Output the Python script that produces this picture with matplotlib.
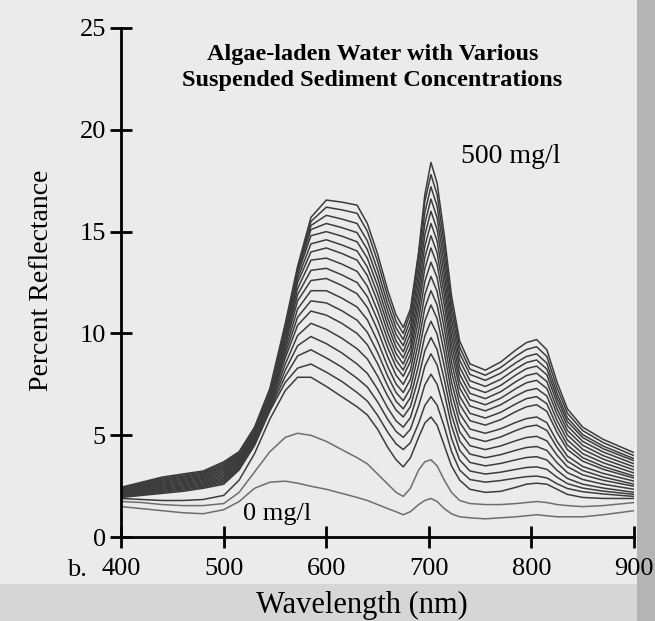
import matplotlib
matplotlib.use("Agg")
import matplotlib.pyplot as plt
from matplotlib.patches import Rectangle

plt.rcParams['font.family'] = ['Liberation Serif', 'DejaVu Serif']

# wavelength grid (nm) shared by every spectrum
wavelength = [400, 420, 440, 460, 480, 500, 515, 530, 545, 560, 572, 585, 600, 615, 630,
              640, 650, 660, 668, 675, 682, 690, 696, 702, 708, 715, 722, 730, 740, 755,
              770, 785, 795, 805, 815, 825, 835, 850, 870, 900]

# percent reflectance, 0 mg/l (curve_00) up to 500 mg/l (curve_19)
curve_00 = [1.5, 1.4, 1.3, 1.2, 1.15, 1.35, 1.75, 2.4, 2.7, 2.75, 2.65, 2.5, 2.35, 2.15, 1.95,
            1.8, 1.6, 1.4, 1.25, 1.1, 1.25, 1.6, 1.8, 1.9, 1.75, 1.4, 1.15, 1.0, 0.95, 0.9,
            0.95, 1.0, 1.05, 1.1, 1.05, 1.0, 1.0, 1.0, 1.1, 1.3]
curve_01 = [1.75, 1.7, 1.6, 1.55, 1.55, 1.65, 2.2, 3.2, 4.2, 4.9, 5.1, 5.0, 4.7, 4.3, 3.9,
            3.6, 3.1, 2.6, 2.2, 2.0, 2.4, 3.3, 3.7, 3.8, 3.5, 2.8, 2.2, 1.8, 1.65, 1.6,
            1.6, 1.65, 1.7, 1.75, 1.7, 1.6, 1.55, 1.5, 1.55, 1.7]
curve_02 = [1.9, 1.85, 1.8, 1.8, 1.85, 2.05, 2.8, 4.1, 5.8, 7.2, 7.85, 7.85, 7.4, 6.9, 6.4,
            6.0, 5.3, 4.4, 3.8, 3.45, 3.9, 4.9, 5.6, 5.9, 5.5, 4.5, 3.5, 2.8, 2.35, 2.2,
            2.25, 2.45, 2.6, 2.65, 2.6, 2.35, 2.1, 1.95, 1.9, 1.9]
curve_03 = [1.95, 2.05, 2.15, 2.25, 2.4, 2.6, 3.3, 4.5, 6.2, 7.6, 8.3, 8.5, 8.1, 7.65, 7.1,
            6.68, 5.98, 5.14, 4.58, 4.3, 4.64, 5.6, 6.46, 6.9, 6.48, 5.43, 4.21, 3.29, 2.83, 2.7,
            2.78, 2.9, 2.97, 3.0, 2.91, 2.62, 2.39, 2.23, 2.12, 2.0]
curve_04 = [1.98, 2.09, 2.2, 2.3, 2.45, 2.67, 3.36, 4.56, 6.27, 7.9, 8.9, 9.2, 8.8, 8.35, 7.8,
            7.37, 6.64, 5.77, 5.19, 4.9, 5.3, 6.45, 7.47, 8.0, 7.51, 6.29, 4.86, 3.79, 3.25, 3.1,
            3.19, 3.33, 3.42, 3.45, 3.33, 2.94, 2.63, 2.41, 2.26, 2.1]
curve_05 = [2.01, 2.13, 2.25, 2.36, 2.51, 2.74, 3.41, 4.61, 6.34, 8.2, 9.4, 9.85, 9.5, 9.05, 8.5,
            8.04, 7.26, 6.33, 5.71, 5.4, 5.87, 7.2, 8.39, 9.0, 8.45, 7.08, 5.48, 4.27, 3.67, 3.5,
            3.62, 3.8, 3.91, 3.95, 3.79, 3.28, 2.88, 2.6, 2.41, 2.2]
curve_06 = [2.04, 2.17, 2.3, 2.41, 2.56, 2.81, 3.47, 4.67, 6.41, 8.5, 9.9, 10.5, 10.2, 9.77, 9.25,
            8.75, 7.91, 6.91, 6.24, 5.9, 6.41, 7.85, 9.14, 9.8, 9.21, 7.74, 6.02, 4.73, 4.08, 3.9,
            4.05, 4.27, 4.4, 4.45, 4.26, 3.65, 3.17, 2.83, 2.6, 2.35]
curve_07 = [2.08, 2.21, 2.35, 2.46, 2.61, 2.88, 3.53, 4.73, 6.48, 8.8, 10.4, 11.1, 10.9, 10.5, 10.0,
            9.45, 8.52, 7.41, 6.67, 6.3, 6.86, 8.45, 9.87, 10.6, 9.97, 8.4, 6.57, 5.18, 4.49, 4.3,
            4.48, 4.74, 4.89, 4.95, 4.73, 4.02, 3.46, 3.06, 2.79, 2.5]
curve_08 = [2.11, 2.25, 2.4, 2.52, 2.67, 2.94, 3.58, 4.78, 6.54, 9.0, 10.8, 11.6, 11.5, 11.12, 10.65,
            10.06, 9.07, 7.89, 7.1, 6.7, 7.31, 9.05, 10.6, 11.4, 10.73, 9.06, 7.11, 5.64, 4.9, 4.7,
            4.92, 5.24, 5.42, 5.5, 5.24, 4.4, 3.73, 3.27, 2.95, 2.6]
curve_09 = [2.14, 2.29, 2.45, 2.57, 2.72, 3.01, 3.64, 4.84, 6.61, 9.2, 11.2, 12.1, 12.1, 11.74, 11.3,
            10.67, 9.62, 8.36, 7.52, 7.1, 7.75, 9.6, 11.25, 12.1, 11.4, 9.65, 7.62, 6.08, 5.31, 5.1,
            5.32, 5.64, 5.82, 5.9, 5.62, 4.7, 3.98, 3.47, 3.13, 2.75]
curve_10 = [2.17, 2.33, 2.5, 2.62, 2.77, 3.08, 3.69, 4.89, 6.68, 9.4, 11.6, 12.6, 12.7, 12.36, 11.95,
            11.28, 10.17, 8.84, 7.95, 7.5, 8.19, 10.15, 11.9, 12.8, 12.07, 10.25, 8.13, 6.52, 5.72, 5.5,
            5.77, 6.17, 6.4, 6.5, 6.18, 5.13, 4.3, 3.73, 3.33, 2.9]
curve_11 = [2.2, 2.38, 2.55, 2.68, 2.83, 3.15, 3.75, 4.95, 6.75, 9.6, 11.9, 13.1, 13.2, 12.88, 12.5,
            11.81, 10.66, 9.28, 8.36, 7.9, 8.63, 10.7, 12.55, 13.5, 12.74, 10.82, 8.6, 6.92, 6.08, 5.85,
            6.13, 6.55, 6.8, 6.9, 6.55, 5.42, 4.52, 3.9, 3.47, 3.0]
curve_12 = [2.23, 2.42, 2.6, 2.73, 2.88, 3.22, 3.81, 5.01, 6.82, 9.7, 12.2, 13.6, 13.7, 13.41, 13.05,
            12.32, 11.11, 9.66, 8.69, 8.2, 8.98, 11.2, 13.18, 14.2, 13.4, 11.4, 9.08, 7.32, 6.44, 6.2,
            6.5, 6.94, 7.19, 7.3, 6.93, 5.72, 4.77, 4.1, 3.65, 3.15]
curve_13 = [2.26, 2.46, 2.65, 2.78, 2.93, 3.29, 3.86, 5.06, 6.89, 9.8, 12.5, 14.0, 14.2, 13.93, 13.6,
            12.84, 11.56, 10.03, 9.01, 8.5, 9.32, 11.65, 13.73, 14.8, 13.97, 11.9, 9.49, 7.66, 6.75, 6.5,
            6.82, 7.3, 7.58, 7.7, 7.3, 6.03, 5.02, 4.31, 3.83, 3.3]
curve_14 = [2.29, 2.5, 2.7, 2.83, 2.98, 3.36, 3.92, 5.12, 6.96, 9.9, 12.7, 14.4, 14.6, 14.35, 14.05,
            13.26, 11.95, 10.38, 9.33, 8.8, 9.66, 12.1, 14.28, 15.4, 14.54, 12.39, 9.9, 8.0, 7.06, 6.8,
            7.14, 7.64, 7.93, 8.05, 7.64, 6.3, 5.24, 4.51, 4.0, 3.45]
curve_15 = [2.33, 2.54, 2.75, 2.89, 3.04, 3.43, 3.98, 5.18, 7.03, 10.0, 12.9, 14.8, 15.0, 14.78, 14.5,
            13.69, 12.34, 10.72, 9.64, 9.1, 10.0, 12.55, 14.83, 16.0, 15.11, 12.89, 10.3, 8.35, 7.37, 7.1,
            7.45, 7.97, 8.27, 8.4, 7.97, 6.58, 5.47, 4.7, 4.18, 3.6]
curve_16 = [2.36, 2.58, 2.8, 2.94, 3.09, 3.49, 4.03, 5.23, 7.09, 10.1, 13.0, 15.1, 15.4, 15.2, 14.95,
            14.12, 12.73, 11.07, 9.96, 9.4, 10.34, 13.0, 15.38, 16.6, 15.68, 13.38, 10.71, 8.69, 7.68, 7.4,
            7.75, 8.27, 8.57, 8.7, 8.25, 6.82, 5.68, 4.89, 4.34, 3.75]
curve_17 = [2.39, 2.62, 2.85, 2.99, 3.14, 3.56, 4.09, 5.29, 7.16, 10.2, 13.1, 15.3, 15.8, 15.62, 15.4,
            14.55, 13.12, 11.41, 10.27, 9.7, 10.68, 13.45, 15.93, 17.2, 16.25, 13.88, 11.12, 9.03, 7.99, 7.7,
            8.05, 8.57, 8.87, 9.0, 8.54, 7.04, 5.86, 5.03, 4.47, 3.85]
curve_18 = [2.42, 2.66, 2.9, 3.05, 3.2, 3.63, 4.14, 5.34, 7.23, 10.35, 13.2, 15.5, 16.2, 16.07, 15.9,
            15.02, 13.54, 11.77, 10.59, 10.0, 11.01, 13.9, 16.47, 17.8, 16.82, 14.35, 11.5, 9.33, 8.25, 7.95,
            8.33, 8.89, 9.21, 9.35, 8.87, 7.32, 6.09, 5.23, 4.64, 4.0]
curve_19 = [2.45, 2.7, 2.95, 3.1, 3.25, 3.7, 4.2, 5.4, 7.3, 10.5, 13.3, 15.7, 16.55, 16.45, 16.3,
            15.4, 13.9, 12.1, 10.9, 10.3, 11.2, 14.0, 16.8, 18.4, 17.38, 14.83, 11.87, 9.63, 8.51, 8.2,
            8.6, 9.2, 9.55, 9.7, 9.2, 7.6, 6.3, 5.4, 4.8, 4.15]

curves = [curve_00, curve_01, curve_02, curve_03, curve_04, curve_05, curve_06, curve_07,
          curve_08, curve_09, curve_10, curve_11, curve_12, curve_13, curve_14, curve_15,
          curve_16, curve_17, curve_18, curve_19]

x_ticks = [400, 500, 600, 700, 800, 900]
y_ticks = [0, 5, 10, 15, 20, 25]

fig = plt.figure(figsize=(6.55, 6.21), dpi=100, facecolor='#ebebeb')

# scanned page tones: darker gutter on the right, grey strip along the bottom
fig.add_artist(Rectangle((0.972, 0), 0.028, 1, transform=fig.transFigure,
                         facecolor='#b4b4b4', edgecolor='none', zorder=0))
fig.add_artist(Rectangle((0, 0), 0.972, 0.06, transform=fig.transFigure,
                         facecolor='#d6d6d6', edgecolor='none', zorder=0))

ax = fig.add_axes([0.185, 0.135, 0.783, 0.82])
ax.patch.set_alpha(0)

for i, refl in enumerate(curves):
    col = '#6e6e6e' if i < 2 else '#3c3c3c'
    ax.plot(wavelength, refl, color=col, lw=1.1, solid_joinstyle='round')

ax.set_xlim(400, 900)
ax.set_ylim(0, 25)
ax.set_xticks(x_ticks)
ax.set_yticks(y_ticks)
for s in ['top', 'right']:
    ax.spines[s].set_visible(False)
for s in ['left', 'bottom']:
    ax.spines[s].set_linewidth(2)
    ax.spines[s].set_color('black')
ax.tick_params(axis='x', direction='inout', length=16, width=2, labelsize=19, pad=7)
ax.tick_params(axis='y', direction='inout', length=16, width=2, labelsize=19, pad=3)

ax.text(645, 23.05, 'Algae-laden Water with Various\nSuspended Sediment Concentrations',
        ha='center', va='center', fontsize=17.5, fontweight='bold', linespacing=1.3)
ax.text(780, 18.7, '500 mg/l', ha='center', va='center', fontsize=20)
ax.text(552, 1.15, '0 mg/l', ha='center', va='center', fontsize=19)

fig.text(0.064, 0.549, 'Percent Reflectance', rotation=90, ha='center', va='center', fontsize=20)
fig.text(0.553, 0.025, 'Wavelength (nm)', ha='center', va='center', fontsize=22)
fig.text(0.118, 0.082, 'b.', ha='center', va='center', fontsize=19)

fig.savefig('out.png', dpi=100, facecolor=fig.get_facecolor())
